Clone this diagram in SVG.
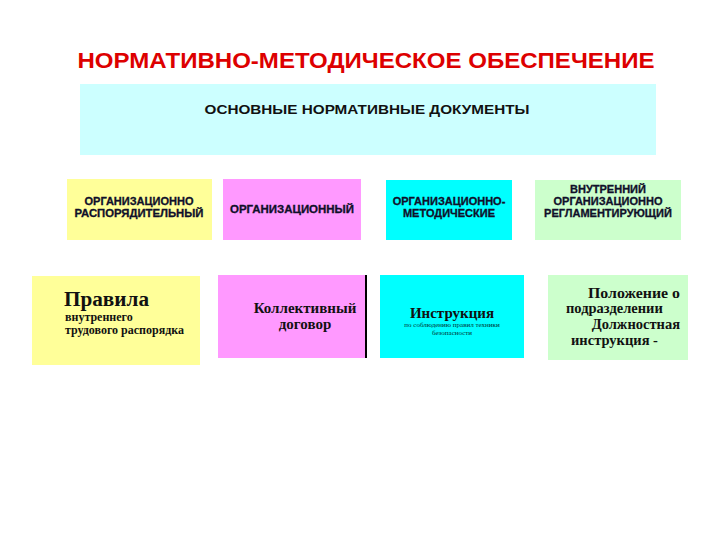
<svg xmlns="http://www.w3.org/2000/svg" width="720" height="540" viewBox="0 0 720 540">
<style>
.cap{font-family:"Liberation Sans",Arial,sans-serif;font-weight:bold;font-size:11px;fill:#10102a;stroke:#10102a;stroke-width:0.3;text-anchor:middle}
.ser{font-family:"Liberation Serif","Times New Roman",serif;font-weight:bold;fill:#111}
.y{fill:#ffff99}.p{fill:#ff99ff}.c{fill:#00ffff}.g{fill:#ccffcc}
</style>
<rect width="720" height="540" fill="#fff"/>
<g id="title">
<text x="366" y="68" font-family="Liberation Sans,Arial,sans-serif" font-weight="bold" font-size="22" fill="#dd0000" text-anchor="middle" textLength="577" lengthAdjust="spacingAndGlyphs">НОРМАТИВНО-МЕТОДИЧЕСКОЕ ОБЕСПЕЧЕНИЕ</text>
</g>
<g id="main">
<rect x="80" y="84" width="576" height="71" fill="#ccffff"/>
<text x="367" y="114" font-family="Liberation Sans,Arial,sans-serif" font-weight="bold" font-size="13.5" fill="#111" text-anchor="middle" textLength="325" lengthAdjust="spacingAndGlyphs">ОСНОВНЫЕ НОРМАТИВНЫЕ ДОКУМЕНТЫ</text>
</g>
<g id="cat1">
<rect class="y" x="67" y="179" width="145" height="61"/>
<text class="cap" x="139" y="205">ОРГАНИЗАЦИОННО</text>
<text class="cap" x="139" y="217" textLength="129" lengthAdjust="spacingAndGlyphs">РАСПОРЯДИТЕЛЬНЫЙ</text>
</g>
<g id="cat2">
<rect class="p" x="223" y="179" width="138" height="61"/>
<text class="cap" x="292" y="213" textLength="124" lengthAdjust="spacingAndGlyphs">ОРГАНИЗАЦИОННЫЙ</text>
</g>
<g id="cat3">
<rect class="c" x="386" y="180" width="126" height="60"/>
<text class="cap" x="449" y="205">ОРГАНИЗАЦИОННО-</text>
<text class="cap" x="449" y="217">МЕТОДИЧЕСКИЕ</text>
</g>
<g id="cat4">
<rect class="g" x="535" y="180" width="146" height="60"/>
<text class="cap" x="608" y="193">ВНУТРЕННИЙ</text>
<text class="cap" x="608" y="205">ОРГАНИЗАЦИОННО</text>
<text class="cap" x="608" y="217">РЕГЛАМЕНТИРУЮЩИЙ</text>
</g>
<g id="doc1">
<rect class="y" x="32" y="276" width="168" height="89"/>
<text class="ser" x="64" y="306" font-size="20" textLength="85" lengthAdjust="spacingAndGlyphs">Правила</text>
<text class="ser" x="65" y="321" font-size="12">внутреннего</text>
<text class="ser" x="65" y="334" font-size="12">трудового распорядка</text>
</g>
<g id="doc2">
<rect class="p" x="218" y="275" width="148" height="83"/>
<line x1="366" y1="275" x2="366" y2="358" stroke="#000" stroke-width="2"/>
<text class="ser" x="305" y="313" font-size="15" text-anchor="middle" fill="#220033">Коллективный</text>
<text class="ser" x="305" y="329" font-size="15" text-anchor="middle" fill="#220033">договор</text>
</g>
<g id="doc3">
<rect class="c" x="380" y="275" width="144" height="83"/>
<text class="ser" x="452" y="318" font-size="15" text-anchor="middle" fill="#003333">Инструкция</text>
<text x="452" y="327" font-family="Liberation Serif,serif" font-size="7" fill="#003333" text-anchor="middle">по соблюдению правил техники</text>
<text x="452" y="335" font-family="Liberation Serif,serif" font-size="7" fill="#003333" text-anchor="middle">безопасности</text>
</g>
<g id="doc4">
<rect class="g" x="548" y="275" width="140" height="85"/>
<text class="ser" x="680" y="298" font-size="14.5" text-anchor="end" textLength="92" lengthAdjust="spacingAndGlyphs">Положение о</text>
<text class="ser" x="566" y="313" font-size="14.5">подразделении</text>
<text class="ser" x="680" y="329" font-size="14.5" text-anchor="end">Должностная</text>
<text class="ser" x="571" y="345" font-size="14.5">инструкция -</text>
</g>
</svg>
